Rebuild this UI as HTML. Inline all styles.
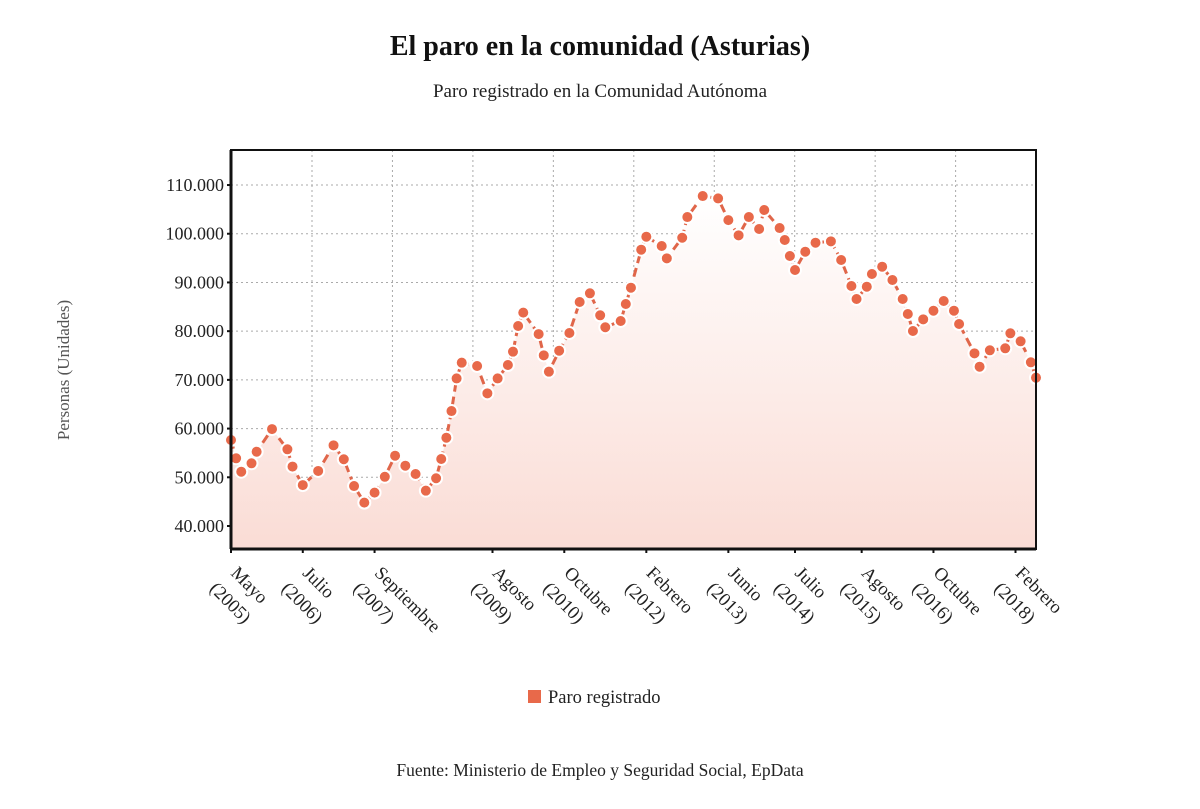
<!DOCTYPE html>
<html><head><meta charset="utf-8"><style>
body{margin:0;background:#fff;}
svg{display:block;font-family:"Liberation Serif",serif;}
</style></head><body>
<svg id="chart" width="1200" height="809" viewBox="0 0 1200 809" xmlns="http://www.w3.org/2000/svg">
<defs><linearGradient id="fillg" x1="0" y1="0" x2="0" y2="1"><stop offset="0" stop-color="#fff" stop-opacity="1"/><stop offset="1" stop-color="#fadcd5"/></linearGradient></defs>
<text x="600" y="55" text-anchor="middle" font-size="28" font-weight="bold" fill="#111">El paro en la comunidad (Asturias)</text>
<text x="600" y="97" text-anchor="middle" font-size="19" fill="#222">Paro registrado en la Comunidad Autónoma</text>
<text transform="translate(69,370) rotate(-90)" text-anchor="middle" font-size="17" fill="#555">Personas (Unidades)</text>
<g id="grid"></g>
<g id="plot"></g>
<g id="axes"></g>
<g><rect x="528" y="690" width="13" height="13" fill="#e8694a"/><text x="548" y="703" font-size="18.5" fill="#222">Paro registrado</text></g>
<text x="600" y="776" text-anchor="middle" font-size="17.5" fill="#222">Fuente: Ministerio de Empleo y Seguridad Social, EpData</text>
</svg>
<script>
const months=[0,1,2,4,5,8,11,12,14,17,20,22,24,26,28,30,32,34,36,38,40,41,42,43,44,45,48,50,52,54,55,56,57,60,61,62,64,66,68,70,72,73,76,77,78,80,81,84,85,88,89,92,95,97,99,101,103,104,107,108,109,110,112,114,117,119,121,122,124,125,127,129,131,132,133,135,137,139,141,142,145,146,148,151,152,154,156,157];
const values=[57650,53900,51150,52870,55250,59900,55750,52200,48400,51300,56560,53700,48200,44800,46850,50100,54430,52380,50670,47250,49800,53750,58130,63600,70300,73530,72850,67240,70300,73050,75790,81060,83800,79400,75040,71680,75990,79620,85990,87770,83260,80800,82090,85580,88920,96720,99390,97480,94950,99180,103430,107740,107250,102800,99670,103430,100970,104870,101170,98720,95430,92560,96310,98160,98440,94610,89270,86600,89130,91730,93230,90500,86600,83520,80030,82430,84200,86190,84200,81470,75450,72700,76070,76480,79560,77920,73610,70450];
const yTicks=[40000,50000,60000,70000,80000,90000,100000,110000];
const yTickLabels=["40.000","50.000","60.000","70.000","80.000","90.000","100.000","110.000"];
const xTickMonths=[0,14,28,51,65,81,97,110,123,137,153];
const xTickLabels=[["Mayo","(2005)"],["Julio","(2006)"],["Septiembre","(2007)"],["Agosto","(2009)"],["Octubre","(2010)"],["Febrero","(2012)"],["Junio","(2013)"],["Julio","(2014)"],["Agosto","(2015)"],["Octubre","(2016)"],["Febrero","(2018)"]];
const L=231,R=1036,T=150,B=549;
const xMax=157;
function x(m){return L+m/xMax*(R-L);}
function y(v){return 526-(v-40000)/10000*48.71;}
const NS="http://www.w3.org/2000/svg";
function mk(tag,attrs,parent){const e=document.createElementNS(NS,tag);for(const k in attrs)e.setAttribute(k,attrs[k]);parent.appendChild(e);return e;}
const grid=document.getElementById('grid'),plot=document.getElementById('plot'),axes=document.getElementById('axes');
mk('rect',{x:L,y:T,width:R-L,height:B-T,fill:'#fff'},grid);
let d='M'+x(months[0])+','+B;
months.forEach((m,i)=>{d+=' L'+x(m).toFixed(1)+','+y(values[i]).toFixed(1);});
d+=' L'+x(months[months.length-1])+','+B+' Z';
const area=mk('path',{d:d,fill:'url(#fillg)'},plot);


yTicks.forEach(v=>{const g=mk('line',{x1:L,x2:R,y1:y(v),y2:y(v),stroke:'#aaa','stroke-width':1,'stroke-dasharray':'2,3'},grid);

});
for(let k=0;k<9;k++){const gx=312+80.45*k;const g=mk('line',{x1:gx,x2:gx,y1:T,y2:B,stroke:'#aaa','stroke-width':1,'stroke-dasharray':'2,3'},grid);

}
const pts=months.map((m,i)=>x(m).toFixed(1)+','+y(values[i]).toFixed(1)).join(' ');
const line=mk('polyline',{points:pts,fill:'none',stroke:'#e0664a','stroke-width':3,'stroke-dasharray':'9,5'},plot);


months.forEach((m,i)=>{const c=mk('circle',{cx:x(m),cy:y(values[i]),r:6,fill:'#e8694a',stroke:'#fff','stroke-width':2},plot);

});
const fr=mk('rect',{x:L,y:T,width:R-L,height:B-T,fill:'none',stroke:'#111','stroke-width':2},axes);


const xa=mk('line',{x1:L,x2:R,y1:B,y2:B,stroke:'#111','stroke-width':3},axes);


const ya=mk('line',{x1:L,x2:L,y1:T,y2:B,stroke:'#111','stroke-width':3},axes);


yTicks.forEach((v,i)=>{mk('line',{x1:L-4,x2:L,y1:y(v),y2:y(v),stroke:'#111','stroke-width':2},axes);
const t=mk('text',{x:L-7,y:y(v)+6,'text-anchor':'end','font-size':18,fill:'#222'},axes);
t.textContent=yTickLabels[i];

});
xTickMonths.forEach((m,i)=>{const tx=x(m);
mk('line',{x1:tx,x2:tx,y1:B,y2:B+4,stroke:'#111','stroke-width':2},axes);
const t=mk('text',{transform:'translate('+(tx-1)+','+(B+25)+') rotate(45)','font-size':18.5,fill:'#222'},axes);


const a=mk('tspan',{x:0,y:0},t);a.textContent=xTickLabels[i][0];
const b=mk('tspan',{x:-4,y:26},t);b.textContent=xTickLabels[i][1];});
</script>
</body></html>
